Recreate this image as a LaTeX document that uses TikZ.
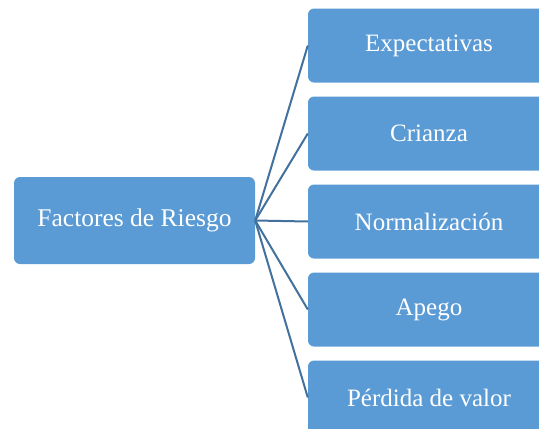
\documentclass[tikz,border=0pt]{standalone}
\usepackage{fontspec}
\setmainfont{Liberation Serif}
\usetikzlibrary{positioning}
\definecolor{boxblue}{HTML}{5B9BD5}
\definecolor{linkblue}{HTML}{41719C}
\tikzstyle{factor} = [rectangle, rounded corners=6pt, minimum width=241pt, minimum height=87pt, inner sep=0pt, text centered, text=white, fill=boxblue, font=\fontsize{25.5}{30}\selectfont]
\tikzstyle{item} = [rectangle, rounded corners=6pt, minimum width=242pt, minimum height=74pt, inner sep=0pt, text centered, text=white, fill=boxblue, font=\fontsize{25}{30}\selectfont]
\tikzstyle{link} = [draw=linkblue, line width=2pt]

\begin{document}
\begin{tikzpicture}
	\useasboundingbox (0pt,0pt) rectangle (539pt,-429pt);
	\node (riesgo) [factor] at (134.5pt,-220.5pt) {Factores de Riesgo};
	\node (expect) [item] at (429pt,-45.5pt) {Expectativas};
	\node (crianza) [item, below=13.6pt of expect] {Crianza};
	\node (normal) [item, below=13.6pt of crianza] {Normalización};
	\node (apego) [item, below=13.6pt of normal] {Apego};
	\node (perdida) [item, below=13.6pt of apego] {Pérdida de valor};
	
	\draw [link](riesgo.east) -- (expect.west);
	\draw [link](riesgo.east) -- (crianza.west);
	\draw [link](riesgo.east) -- (normal.west);
	\draw [link](riesgo.east) -- (apego.west);
	\draw [link](riesgo.east) -- (perdida.west);
\end{tikzpicture}
\end{document}
